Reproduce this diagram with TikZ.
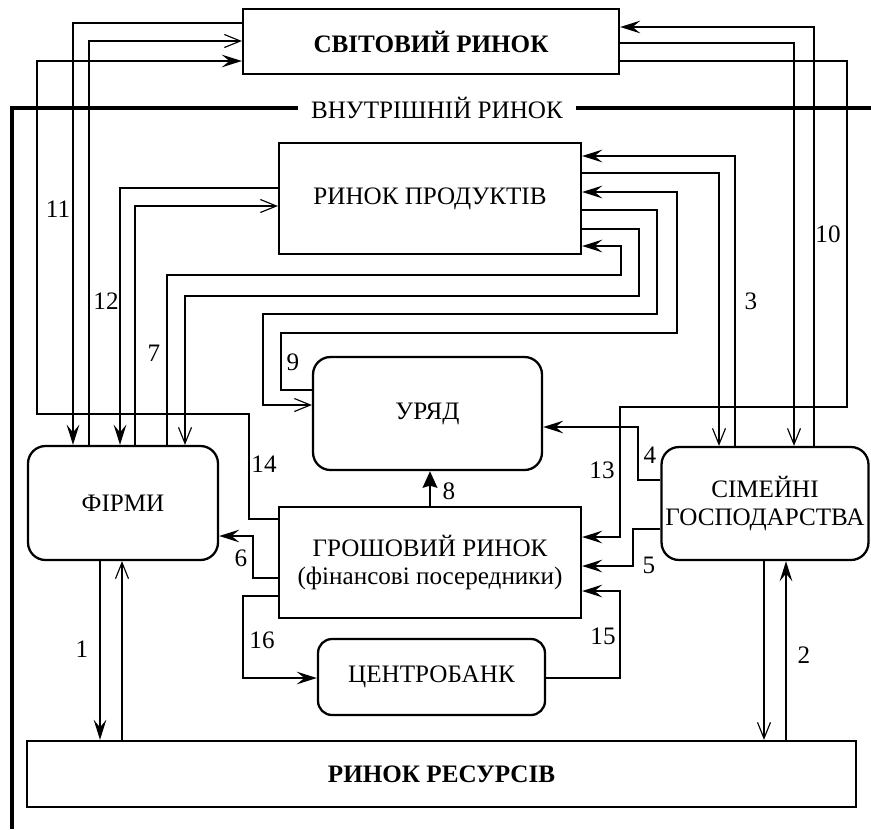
\documentclass[tikz,border=0pt]{standalone}
\usepackage{fontspec}
\setmainfont{Liberation Serif}
\usepackage{tikz}
\usetikzlibrary{arrows.meta,positioning,calc}

\begin{document}
\begin{tikzpicture}[x=0.02cm,y=-0.02cm,
          font=\fontsize{14.3}{16}\selectfont,
          box/.style={rectangle,draw,line width=1.3pt,inner sep=0pt,align=center},
          rbox/.style={box,rounded corners=0.35cm},
          thk/.style={line width=1.6pt,-{Stealth[length=4mm,width=2.5mm,inset=1.5mm]}},
          thn/.style={line width=0.65pt,-{Straight Barb[length=3.2mm,width=2.6mm]}},
          lbl/.style={inner sep=0pt}]
  \useasboundingbox (0,0) rectangle (871,829);
  % markets and agents
  \node[box,minimum width=7.52cm,minimum height=1.3cm,font=\fontsize{14.3}{16}\selectfont\bfseries]
       (world) at (431,41.5) {СВІТОВИЙ РИНОК};
  \node[lbl,inner xsep=0.26cm] (inner) at (437,108) {ВНУТРІШНІЙ РИНОК};
  \node[box,minimum width=6.04cm,minimum height=2.22cm] (prod) at (430,198.5) {РИНОК ПРОДУКТІВ};
  \node[rbox,minimum width=4.58cm,minimum height=2.26cm] (gov) at (427.5,413.5) {УРЯД};
  \node[rbox,minimum width=3.8cm,minimum height=2.28cm] (firms) at (123,503) {ФІРМИ};
  \node[rbox,minimum width=4.14cm,minimum height=2.26cm] (house) at (765,503.5) {СІМЕЙНІ\\ГОСПОДАРСТВА};
  \node[box,minimum width=6.04cm,minimum height=2.22cm] (money) at (430,562.5)
       {ГРОШОВИЙ РИНОК\\(фінансові посередники)};
  \node[rbox,minimum width=4.54cm,minimum height=1.52cm,rounded corners=0.28cm] (cbank) at (431.5,677) {ЦЕНТРОБАНК};
  \node[box,minimum width=16.58cm,minimum height=1.32cm,font=\fontsize{14.3}{16}\selectfont\bfseries]
       (res) at (441.5,774) {РИНОК РЕСУРСІВ};
  % domestic market border
  \coordinate (dombot) at (12,829);
  \coordinate (domend) at (871,108);
  \draw[line width=2pt] (dombot) |- (inner.west);
  \draw[line width=2pt] (inner.east) -- (domend);
  % world market flows
  \draw[thk] (world.west |- 0,23) -| (firms.north -| 73,0);
  \draw[thn] (firms.north -| 89,0) |- (world.west |- 0,41);
  \draw[thk] (money.west |- 0,519) -| (249,414) -| (37,61) -- (world.west |- 0,61);
  \draw[thk] (house.north -| 814,0) |- (world.east |- 0,27);
  \draw[thn] (world.east |- 0,43) -| (house.north -| 794,0);
  \draw[thk] (world.east |- 0,61) -| (847,407) -| (620,537) -- (money.east |- 0,537);
  % product market flows
  \draw[thk] (prod.west |- 0,188) -| (firms.north -| 120,0);
  \draw[thn] (firms.north -| 135,0) |- (prod.west |- 0,206);
  \draw[thk] (firms.north -| 167,0) |- (621,275) |- (prod.east |- 0,246);
  \draw[thn] (prod.east |- 0,229) -| (639,296) -| (firms.north -| 185,0);
  \draw[thn] (prod.east |- 0,210) -| (657,314) -| (263,405) -- (gov.west |- 0,405);
  \draw[thk] (gov.west |- 0,390) -| (281,333) -| (677,192) -- (prod.east |- 0,192);
  \draw[thn] (prod.east |- 0,173) -| (house.north -| 719,0);
  \draw[thk] (house.north -| 735,0) |- (prod.east |- 0,156);
  % money flows
  \draw[thk] (house.west |- 0,480) -| (638,427) -- (gov.east |- 0,427);
  \draw[thk] (house.west |- 0,529) -| (633,566) -- (money.east |- 0,566);
  \draw[thk] (cbank.east |- 0,678) -| (620,591) -- (money.east |- 0,591);
  \draw[thk] (money.west |- 0,578) -| (253,536) -- (firms.east |- 0,536);
  \draw[thk] (money.west |- 0,596) -| (243,678) -- (cbank.west |- 0,678);
  \draw[line width=1.6pt,-{Stealth[length=3.3mm,width=2.9mm,inset=0.4mm]}] (money.north) -- (money.north |- gov.south);
  % resource market flows
  \draw[thk] (firms.south -| 100,0) -- (res.north -| 100,0);
  \draw[thn] (res.north -| 122,0) -- (firms.south -| 122,0);
  \draw[thn] (house.south -| 764,0) -- (res.north -| 764,0);
  \draw[thk] (res.north -| 786,0) -- (house.south -| 786,0);
  % flow numbers
  \node[lbl] (n1)  at (82,649)  {1};
  \node[lbl] (n2)  at (804,655) {2};
  \node[lbl] (n3)  at (751,301) {3};
  \node[lbl] (n4)  at (650,455) {4};
  \node[lbl] (n5)  at (649,565) {5};
  \node[lbl] (n6)  at (241,558) {6};
  \node[lbl] (n7)  at (154,353) {7};
  \node[lbl] (n8)  at (449,491) {8};
  \node[lbl] (n9)  at (293,362) {9};
  \node[lbl] (n10) at (828,234) {10};
  \node[lbl] (n11) at (58,209)  {11};
  \node[lbl] (n12) at (106,301) {12};
  \node[lbl] (n13) at (602,470) {13};
  \node[lbl] (n14) at (264,464) {14};
  \node[lbl] (n15) at (603,636) {15};
  \node[lbl] (n16) at (262,640) {16};
\end{tikzpicture}
\end{document}
